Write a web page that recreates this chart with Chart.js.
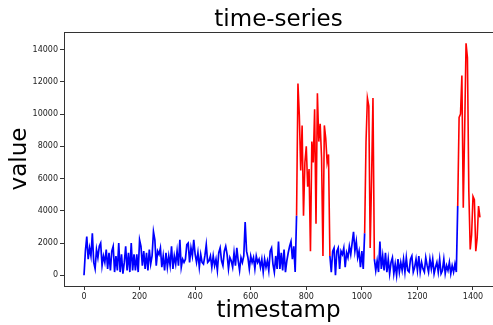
<!DOCTYPE html>
<html>
<head>
<meta charset="utf-8">
<script src="https://cdn.jsdelivr.net/npm/chart.js@4"></script>
<style>
  html, body { margin: 0; padding: 0; background: #fff; overflow: hidden; }
  canvas { display: block; }
</style>
</head>
<body>
<canvas id="seriesChart" width="493" height="325"></canvas>
<script>
// samples every 5 timestamps
const sampleStep = 5;
const values = [
  0, 1500, 2400, 1000, 1700, 1200, 2600, 800, 400, 1600,
  1100, 1800, 2000, 600, 1200, 800, 1600, 400, 1400, 300,
  1500, 1800, 200, 1200, 300, 2000, 200, 1300, 100, 800,
  1800, 300, 1400, 200, 2000, 300, 1300, 300, 1300, 200,
  // 200
  2200, 1800, 600, 1500, 400, 1400, 300, 1600, 700, 1200,
  2700, 2200, 600, 1500, 1300, 1700, 500, 1200, 300, 1400,
  500, 1200, 600, 1800, 400, 1200, 700, 1500, 600, 2200,
  500, 1000, 800, 1000, 1900, 2000, 800, 1700, 1200, 2200,
  // 400
  1300, 800, 1400, 500, 1300, 800, 700, 1200, 1900, 800,
  900, 1200, 500, 1200, 600, 1000, 300, 1400, 1700, 900,
  600, 1500, 1800, 1300, 400, 1100, 900, 500, 1400, 600,
  1700, 900, 300, 1100, 800, 1200, 3300, 1500, 1100, 400,
  // 600
  1200, 800, 1100, 400, 1200, 800, 1000, 500, 1000, 200,
  1000, 500, 900, 300, 1500, 1700, 700, 200, 1200, 400,
  2100, 400, 1400, 300, 1600, 200, 900, 1400, 1800, 2100,
  1000, 1800, 200, 3700, 11900, 9900, 6500, 9300, 3700, 7000,
  // 800
  8000, 5500, 6600, 1500, 8300, 7000, 10300, 3200, 11300, 8300,
  9400, 7300, 1200, 9300, 8500, 7000, 7500, 1200, 200, 1500,
  1700, 0, 1500, 1700, 400, 1500, 1300, 1700, 500, 1400,
  1100, 1800, 1300, 2000, 2700, 1500, 2100, 1100, 1500, 500,
  // 1000
  1500, 400, 2600, 8300, 11000, 10500, 1700, 6000, 11000, 1000,
  300, 900, 200, 2100, 400, 1200, 300, 1400, 200, 1000,
  100, 800, 1100, 100, 700, 0, 1000, 200, 800, 300,
  1000, 200, 1100, 300, 200, 1000, 1200, 200, 500, 1000,
  // 1200
  300, 1200, 200, 800, 400, 200, 1100, 600, 200, 1000,
  400, 1000, 100, 500, 800, 200, 1000, 100, 300, 1000,
  100, 600, 300, 800, 100, 600, 200, 700, 200, 4300,
  9800, 10000, 12400, 4200, 9000, 14400, 13500, 5200, 1600, 2500,
  // 1400
  4900, 4700, 1500, 2300, 4300, 3600
];
// timestamp spans flagged as anomalies (drawn red)
const anomalySpans = [[765, 885], [1010, 1045], [1345, 1425]];
const xTicks = [0, 200, 400, 600, 800, 1000, 1200, 1400];
const yTicks = [0, 2000, 4000, 6000, 8000, 10000, 12000, 14000];

const timestamps = values.map((v, i) => i * sampleStep);
const inSpan = t => anomalySpans.some(([a, b]) => t >= a && t <= b);
const insideSpan = t => anomalySpans.some(([a, b]) => t > a && t < b);
// blue keeps the span edges so it joins the red pieces
const bluePoints = timestamps.map((t, i) => ({ x: t, y: insideSpan(t) ? null : values[i] }));
const redPoints = timestamps.map((t, i) => ({ x: t, y: inSpan(t) ? values[i] : null }));

const FONT = "'DejaVu Sans', sans-serif";
const X_MIN = -72, X_MAX = 1472;
const Y_MIN = -664, Y_MAX = 15100;

// upper frame line (the right one falls outside the cropped picture)
const topFrame = {
  id: 'topFrame',
  afterDraw(chart) {
    const { ctx, chartArea: a } = chart;
    ctx.save();
    ctx.strokeStyle = '#333';
    ctx.lineWidth = 1;
    ctx.beginPath();
    ctx.moveTo(a.left, a.top + 0.5);
    ctx.lineTo(chart.width, a.top + 0.5);
    ctx.stroke();
    ctx.restore();
  }
};

window.addEventListener('DOMContentLoaded', () => {
  const ctx = document.getElementById('seriesChart');
  new Chart(ctx.getContext('2d'), {
    type: 'line',
    data: {
      datasets: [
        {
          label: 'value',
          data: bluePoints,
          borderColor: '#0000ff',
          borderWidth: 1.7,
          pointRadius: 0,
          spanGaps: false,
          tension: 0
        },
        {
          label: 'anomaly',
          data: redPoints,
          borderColor: '#ff0000',
          borderWidth: 1.6,
          pointRadius: 0,
          spanGaps: false,
          tension: 0
        }
      ]
    },
    options: {
      responsive: false,
      animation: false,
      plugins: {
        legend: { display: false },
        tooltip: { enabled: false },
        title: { display: false }
      },
      scales: {
        x: {
          type: 'linear',
          position: 'bottom',
          min: X_MIN,
          max: X_MAX,
          afterFit: s => { s.height = 39; },
          afterBuildTicks: s => { s.ticks = xTicks.map(v => ({ value: v })); },
          grid: { drawOnChartArea: false, drawTicks: true, tickLength: 4, tickColor: '#333', tickWidth: 1 },
          border: { display: true, color: '#333', width: 1 },
          ticks: { color: '#222', padding: 2, maxRotation: 0, font: { family: FONT, size: 8 }, callback: v => String(v) },
          title: {
            display: true,
            text: 'timestamp',
            color: '#000',
            padding: { top: 0, bottom: 2.5 },
            font: { family: FONT, size: 23, lineHeight: 1 }
          }
        },
        // top axis only carries the title
        top: {
          type: 'linear',
          position: 'top',
          min: X_MIN,
          max: X_MAX,
          afterFit: s => { s.height = 32; },
          grid: { display: false },
          border: { display: false },
          ticks: { display: false },
          title: {
            display: true,
            text: 'time-series',
            color: '#000',
            padding: { top: 8.2, bottom: 0 },
            font: { family: FONT, size: 23, lineHeight: 1 }
          }
        },
        y: {
          type: 'linear',
          min: Y_MIN,
          max: Y_MAX,
          afterFit: s => { s.width = 64; },
          afterBuildTicks: s => { s.ticks = yTicks.map(v => ({ value: v })); },
          grid: { drawOnChartArea: false, drawTicks: true, tickLength: 4, tickColor: '#333', tickWidth: 1 },
          border: { display: true, color: '#333', width: 1 },
          ticks: { color: '#222', padding: 2, font: { family: FONT, size: 8 }, callback: v => String(v) },
          title: {
            display: true,
            text: 'value',
            color: '#000',
            padding: { top: 8.5, bottom: 0 },
            font: { family: FONT, size: 23, lineHeight: 1 }
          }
        }
      }
    },
    plugins: [topFrame]
  });
});
</script>
</body>
</html>
